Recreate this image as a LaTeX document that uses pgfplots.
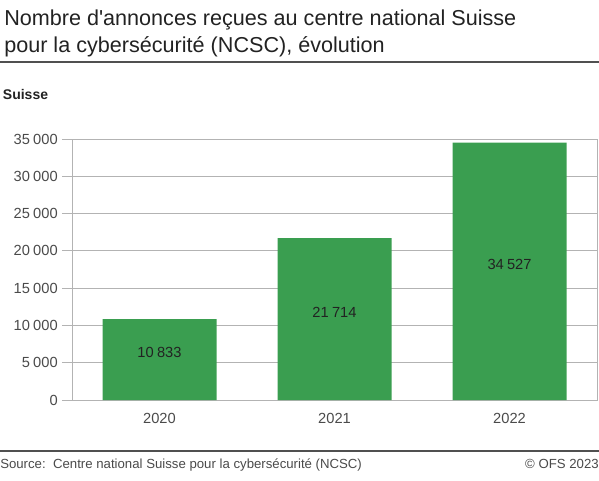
\documentclass[border=0pt]{standalone}
\usepackage{pgfplots}
\pgfplotsset{compat=1.18}
\usepackage{fontspec}
\setmainfont{Liberation Sans}
\definecolor{barfill}{HTML}{3A9E50}
\definecolor{framegray}{HTML}{B3B3B3}
\definecolor{rulegray}{HTML}{505050}
\definecolor{txt}{HTML}{222222}
\definecolor{ticktxt}{HTML}{4A4A4A}
\begin{document}
\begin{tikzpicture}
\useasboundingbox (0,0) rectangle (449.25pt,360pt);
% title
\node[anchor=base west, inner sep=0pt, font=\fontsize{16.2}{20}\selectfont, text=txt]
  at (3pt,341.25pt) {Nombre d\textquotesingle annonces reçues au centre national Suisse};
\node[anchor=base west, inner sep=0pt, font=\fontsize{16.2}{20}\selectfont, text=txt]
  at (3pt,321pt) {pour la cybersécurité (NCSC), évolution};
\draw[rulegray, line width=1.2pt] (0,313.5pt) -- (449.25pt,313.5pt);
\node[anchor=base west, inner sep=0pt, font=\bfseries\fontsize{10.5}{12}\selectfont, text=txt]
  at (2pt,285.75pt) {Suisse};

\begin{axis}[
    at={(54pt,60pt)}, anchor=south west,
    width=393.75pt, height=195.75pt, scale only axis,
    xmin=-0.5, xmax=2.5, ymin=0, ymax=35000,
    ybar, bar width=85.5pt,
    xtick={0,1,2}, xticklabels={2020,2021,2022},
    ytick={0,5000,...,35000},
    scaled y ticks=false,
    ymajorgrids,
    grid style={framegray, line width=0.75pt},
    axis line style={framegray, line width=0.75pt},
    tick align=outside, ytick pos=left, major tick length=7.5pt,
    ytick style={framegray, line width=0.75pt},
    xtick style={draw=none},
    ticklabel style={font=\fontsize{11}{13}\selectfont, text=ticktxt},
    yticklabel style={anchor=east, inner sep=0pt, xshift=-3pt},
    xticklabel style={anchor=north, inner sep=0pt, yshift=-2pt},
    /pgf/number format/1000 sep={\hspace{0.22em}},
    /pgf/number format/assume math mode=true,
    nodes near coords,
    visualization depends on=rawy \as \rawy,
    every node near coord/.append style={anchor=center, font=\fontsize{11}{13}\selectfont,
        text=txt, shift={(axis direction cs:0,-\rawy/2)}, yshift=5.25pt},
]
\addplot[fill=barfill, draw=none] coordinates {(0,10833) (1,21714) (2,34527)};
\end{axis}

% footer
\draw[rulegray, line width=1.2pt] (0,21.75pt) -- (449.25pt,21.75pt);
\node[anchor=base west, inner sep=0pt, font=\fontsize{9.9}{11}\selectfont, text=ticktxt]
  at (0pt,9pt) {Source:\ \ Centre national Suisse pour la cybersécurité (NCSC)};
\node[anchor=base east, inner sep=0pt, font=\fontsize{9.9}{11}\selectfont, text=ticktxt]
  at (449.25pt,9pt) {© OFS 2023};
\end{tikzpicture}
\end{document}
